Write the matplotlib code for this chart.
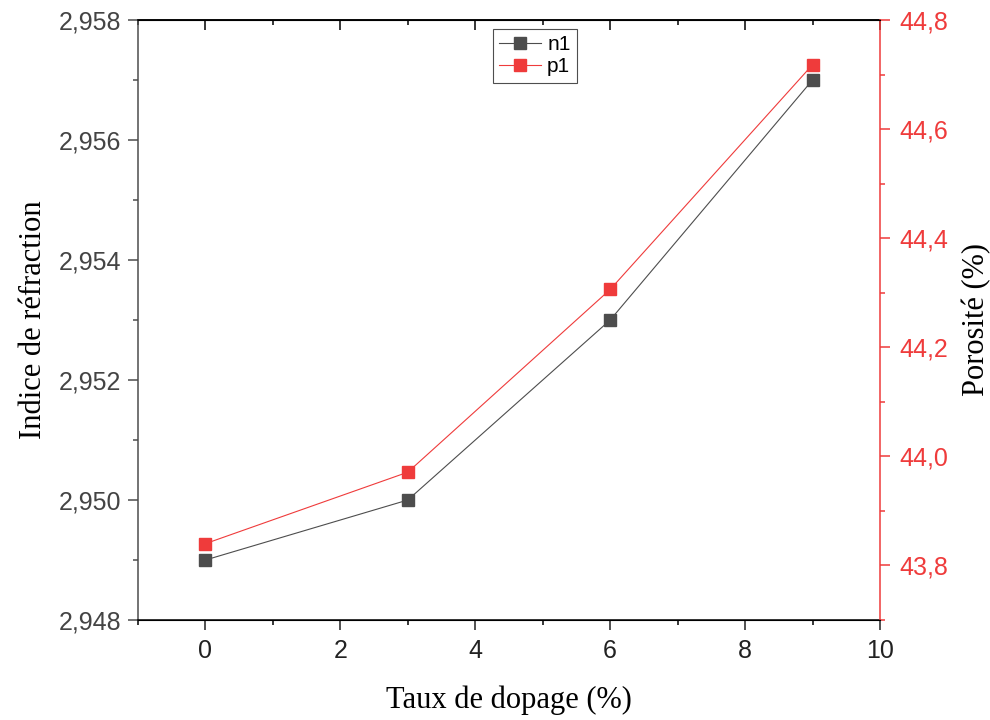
import numpy as np
import matplotlib.pyplot as plt
from matplotlib.ticker import MultipleLocator, FuncFormatter

# donnees
taux = [0, 3, 6, 9]
n1 = [2.949, 2.950, 2.953, 2.957]
p1 = [43.84, 43.971, 44.306, 44.718]

gris = '#4d4d4d'
rouge = '#ef3b3b'

def virgule(nd):
    return FuncFormatter(lambda v, pos: ('{:.%df}' % nd).format(v).replace('.', ','))

fig = plt.figure(figsize=(9.9, 7.2), dpi=100)
ax = fig.add_axes([138/990, 1 - 620/720, (880 - 138)/990, 600/720])
ax2 = ax.twinx()

l1, = ax.plot(taux, n1, '-s', color=gris, lw=0.8, ms=8, mec=gris, label='n1')
l2, = ax2.plot(taux, p1, '-s', color=rouge, lw=0.8, ms=8, mec=rouge, label='p1')

ax.set_xlim(-1, 10)
ax.set_ylim(2.948, 2.958)
ax2.set_ylim(43.7, 44.8)

ax.xaxis.set_major_locator(MultipleLocator(2))
ax.xaxis.set_minor_locator(MultipleLocator(1))
ax.yaxis.set_major_locator(MultipleLocator(0.002))
ax.yaxis.set_minor_locator(MultipleLocator(0.001))
ax.yaxis.set_major_formatter(virgule(3))
ax2.yaxis.set_major_locator(MultipleLocator(0.2))
ax2.yaxis.set_minor_locator(MultipleLocator(0.1))
ax2.yaxis.set_major_formatter(virgule(1))

tf = 'Liberation Sans'
sf = 'Liberation Serif'

ax.tick_params(axis='x', which='major', direction='out', length=7, width=1.1, labelsize=18, pad=7, colors='#222222')
ax.tick_params(axis='x', which='minor', direction='out', length=3.5, width=1.1)
ax.tick_params(axis='y', which='major', direction='out', length=7, width=1.1, labelsize=18, pad=5, color=gris, labelcolor='#444444')
ax.tick_params(axis='y', which='minor', direction='out', length=3.5, width=1.1, color=gris)
ax2.tick_params(axis='y', which='major', direction='out', length=7, width=1.1, labelsize=18, pad=7, colors=rouge)
ax2.tick_params(axis='y', which='minor', direction='out', length=3.5, width=1.1, colors=rouge)
for lab in ax.get_xticklabels() + ax.get_yticklabels() + ax2.get_yticklabels():
    lab.set_family(tf)

haut = ax.secondary_xaxis('top')
haut.xaxis.set_major_locator(MultipleLocator(2))
haut.xaxis.set_minor_locator(MultipleLocator(1))
haut.tick_params(which='major', direction='in', length=7, width=1.1, labeltop=False)
haut.tick_params(which='minor', direction='in', length=3.5, width=1.1)
haut.spines['top'].set_linewidth(1.1)

for s in ['bottom', 'top']:
    ax.spines[s].set_linewidth(1.1)
ax.spines['left'].set_color(gris)
ax.spines['left'].set_linewidth(1.1)
ax2.spines['right'].set_color(rouge)
ax2.spines['right'].set_linewidth(1.1)
ax2.spines['left'].set_visible(False)
ax.spines['right'].set_visible(False)

ax.set_xlabel('Taux de dopage (%)', family=sf, fontsize=22, labelpad=16)
ax.set_ylabel('Indice de réfraction', family=sf, fontsize=22, labelpad=8)
ax2.set_ylabel('Porosité (%)', family=sf, fontsize=22, labelpad=10)

leg = ax.legend([l1, l2], ['n1', 'p1'], loc='upper left', bbox_to_anchor=(493/990, 1 - 29/720),
                bbox_transform=fig.transFigure, prop={'family': tf, 'size': 15},
                frameon=True, fancybox=False, edgecolor='#222222', borderpad=0.3,
                handlelength=2.0, handletextpad=0.3, labelspacing=0.15, borderaxespad=0)
leg.get_frame().set_linewidth(0.8)

fig.savefig('out.png', dpi=100)
